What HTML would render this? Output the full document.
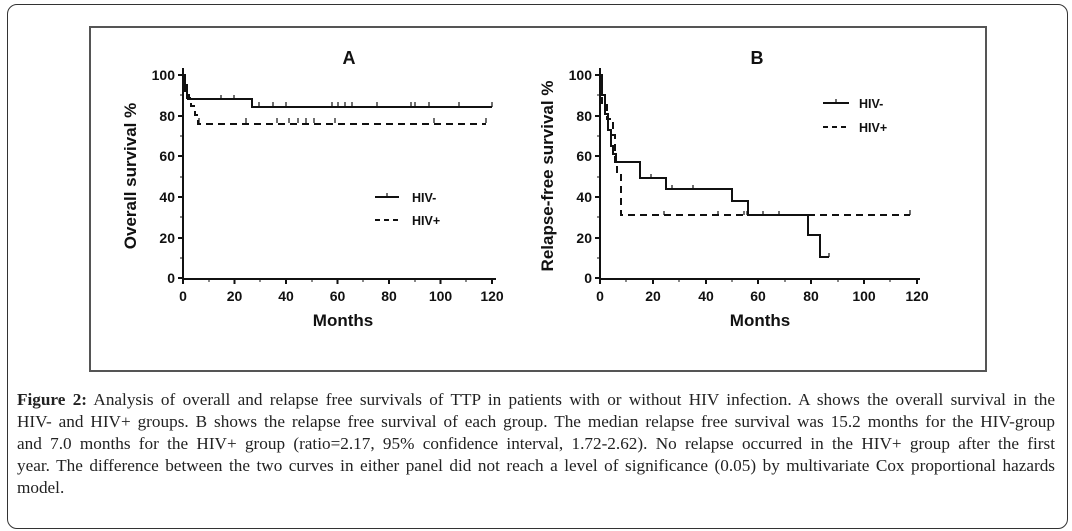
<!DOCTYPE html>
<html><head><style>
body{margin:0;background:#fff;width:1072px;height:531px;overflow:hidden;position:relative;font-family:"Liberation Sans",sans-serif}
.outer{position:absolute;left:7px;top:4px;width:1059px;height:523px;border:1.5px solid #333;border-radius:10px}
.inner{position:absolute;left:89px;top:26px;width:894px;height:342px;border:2px solid #555}
.cap{position:absolute;left:17px;top:389px;width:1038px;font-family:"Liberation Serif",serif;font-size:17.2px;line-height:22px;color:#222}
.cap div{text-align:justify;text-align-last:justify;white-space:nowrap}
.cap div.l{text-align-last:left}
svg{position:absolute;left:0;top:0}
</style></head><body>
<div class="outer"></div><div class="inner"></div>
<svg width="1072" height="531" font-family="Liberation Sans, sans-serif" font-weight="bold">
<g stroke="#111" stroke-width="2" fill="none">
<path d="M183 68V279H496"/>
<path d="M178 75H183M178 116H183M178 156H183M178 197H183M178 238H183M178 278H183"/>
<path d="M180 95H183M180 136H183M180 177H183M180 217H183M180 258H183" stroke-width="1"/>
<path d="M183 279v5M234.5 279v5M286 279v5M337.5 279v5M389 279v5M440.5 279v5M492 279v5"/>
<path d="M209 279v3M260 279v3M312 279v3M363 279v3M415 279v3M466 279v3" stroke-width="1"/>
<path d="M183 75H185V85H187V98H188V95H189V98H190V99H252V107H492"/>
<path d="M221 95v4M234 95v4M252 103v4M259 102v5M273 102v5M286 102v5M332 102v5M338 102v5M345 102v5M352 102v5M377 102v5M411 102v5M415 102v5M429 102v5M459 102v5M492 102v5" stroke-width="1.2"/>
<path d="M183 75H185V91H188V99H191V106H195V115H198V124H486" stroke-dasharray="7,5"/>
<path d="M187 91v4M199 118v5M246 118v5M277 118v5M289 118v5M298 118v5M306 118v5M314 118v5M335 118v5M434 118v5M486 118v5" stroke-width="1.2"/>
<path d="M375 197H399"/><path d="M387 193v4" stroke-width="1.2"/>
<path d="M375 220H399" stroke-dasharray="5,4"/>
<path d="M600 68V279H920"/>
<path d="M595 75H600M595 116H600M595 156H600M595 197H600M595 238H600M595 278H600"/>
<path d="M597 95H600M597 136H600M597 177H600M597 217H600M597 258H600" stroke-width="1"/>
<path d="M600 279v5M653 279v5M706 279v5M758 279v5M811 279v5M864 279v5M917 279v5"/>
<path d="M626 279v3M679 279v3M732 279v3M785 279v3M838 279v3M890 279v3" stroke-width="1"/>
<path d="M600 75H602V95H605V114H608V130H611V146H613V154H616V162H640V178H666V189H732V201H748V215H808V235H820V257H829"/>
<path d="M651 174v4M672 185v4M693 185v4M744 211v4M763 211v4M779 211v4M829 253v4" stroke-width="1.2"/>
<path d="M600 75H602V103H607V119H613V135H615V165H617V172H621V215H910" stroke-dasharray="7,5"/>
<path d="M664 211v4M718 211v4M747 211v4M910 210v5" stroke-width="1.2"/>
<path d="M823 103H849"/><path d="M836 99v4" stroke-width="1.2"/>
<path d="M823 127H849" stroke-dasharray="5,4"/>
</g>
<g font-size="14" fill="#111" text-anchor="end">
<text x="175" y="80">100</text><text x="175" y="121">80</text><text x="175" y="161">60</text><text x="175" y="202">40</text><text x="175" y="243">20</text><text x="175" y="283">0</text>
<text x="592" y="80">100</text><text x="592" y="121">80</text><text x="592" y="161">60</text><text x="592" y="202">40</text><text x="592" y="243">20</text><text x="592" y="283">0</text>
</g>
<g font-size="14" fill="#111" text-anchor="middle">
<text x="183" y="301">0</text><text x="234.5" y="301">20</text><text x="286" y="301">40</text><text x="337.5" y="301">60</text><text x="389" y="301">80</text><text x="440.5" y="301">100</text><text x="492" y="301">120</text>
<text x="600" y="301">0</text><text x="653" y="301">20</text><text x="706" y="301">40</text><text x="758" y="301">60</text><text x="811" y="301">80</text><text x="864" y="301">100</text><text x="917" y="301">120</text>
<text x="343" y="326" font-size="17">Months</text>
<text x="760" y="326" font-size="17">Months</text>
<text x="349" y="64" font-size="18">A</text>
<text x="757" y="64" font-size="18">B</text>
<text transform="translate(136,176) rotate(-90)" font-size="17">Overall survival %</text>
<text transform="translate(553,176) rotate(-90)" font-size="17">Relapse-free survival %</text>
</g>
<g font-size="12.5" fill="#111">
<text x="412" y="202">HIV-</text><text x="412" y="225">HIV+</text>
<text x="859" y="108">HIV-</text><text x="859" y="132">HIV+</text>
</g>
</svg>
<div class="cap">
<div><b style="font-weight:600">Figure 2:</b> Analysis of overall and relapse free survivals of TTP in patients with or without HIV infection. A shows the overall survival in the</div>
<div>HIV- and HIV+ groups. B shows the relapse free survival of each group. The median relapse free survival was 15.2 months for the HIV-group</div>
<div>and 7.0 months for the HIV+ group (ratio=2.17, 95% confidence interval, 1.72-2.62). No relapse occurred in the HIV+ group after the first</div>
<div>year. The difference between the two curves in either panel did not reach a level of significance (0.05) by multivariate Cox proportional hazards</div>
<div class="l">model.</div>
</div>
</body></html>
